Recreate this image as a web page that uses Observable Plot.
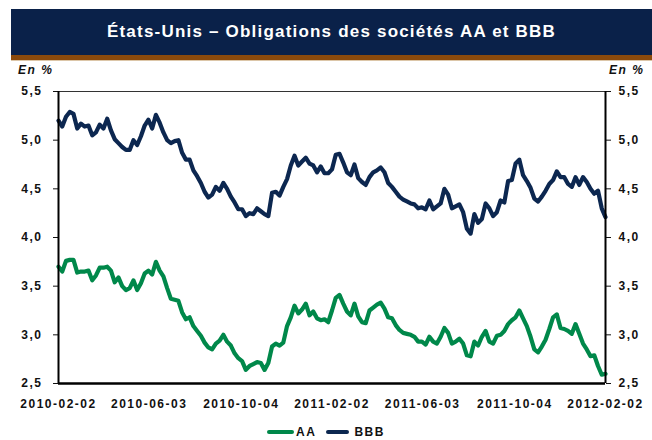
<!DOCTYPE html>
<html lang="fr">
<head>
<meta charset="utf-8">
<script src="https://cdn.jsdelivr.net/npm/d3@7"></script>
<script src="https://cdn.jsdelivr.net/npm/@observablehq/plot@0.6"></script>
<style>
  html, body { margin: 0; padding: 0; background: #fff; }
  body { width: 652px; height: 440px; position: relative; overflow: hidden;
         font-family: "Liberation Sans", Arial, sans-serif; }
  #titlebar { position: absolute; left: 11px; top: 9px; width: 641px; height: 46px;
              background: #0a2149; color: #fff; font-weight: bold; font-size: 17px;
              letter-spacing: 1.2px; display: flex; align-items: center; justify-content: center; }
  #stripe { position: absolute; left: 11px; top: 55px; width: 641px; height: 5px; background: #8b4a0c; }
  #stripe2 { position: absolute; left: 11px; top: 60px; width: 641px; height: 1px; background: #dcc6a8; }
  .unit { position: absolute; top: 63px; font-weight: bold; font-style: italic; font-size: 12px;
          letter-spacing: 1.5px; color: #111; }
  #chart { position: absolute; left: 0; top: 80px; }
  #legend { position: absolute; top: 425px; left: 0; width: 652px; display: flex; justify-content: center;
            align-items: center; font-weight: bold; font-size: 12px; letter-spacing: 1.5px; color: #111; }
  .sw { display: inline-block; height: 4px; border-radius: 2px; margin-right: 2px; }
</style>
</head>
<body>
<div id="titlebar">États-Unis – Obligations des sociétés AA et BBB</div>
<div id="stripe"></div>
<div id="stripe2"></div>
<div class="unit" style="left:18px">En %</div>
<div class="unit" style="left:609px">En %</div>
<div id="chart"></div>
<div id="legend"></div>
<script>
const startDate = "2010-02-02";
const stepDays = 5;
const seriesNames = ["AA", "BBB"];
const seriesColors = ["#00884a", "#0c2750"];

const aaValues = [
  3.70,3.65,3.76,3.77,3.77,3.64,3.65,3.65,3.66,3.56,
  3.61,3.69,3.69,3.70,3.66,3.54,3.59,3.50,3.46,3.48,
  3.56,3.46,3.53,3.63,3.66,3.62,3.75,3.66,3.60,3.48,
  3.37,3.36,3.35,3.23,3.16,3.18,3.09,3.04,2.99,2.92,
  2.87,2.85,2.91,2.94,3.00,2.93,2.89,2.81,2.76,2.73,
  2.64,2.68,2.70,2.72,2.71,2.64,2.71,2.88,2.91,2.89,
  2.92,3.09,3.18,3.30,3.22,3.26,3.32,3.20,3.24,3.17,
  3.15,3.16,3.13,3.25,3.38,3.41,3.32,3.24,3.20,3.32,
  3.19,3.13,3.12,3.25,3.28,3.31,3.33,3.27,3.18,3.17,
  3.10,3.05,3.02,3.01,3.00,2.98,2.93,2.93,2.90,2.98,
  2.93,2.91,2.98,3.07,3.02,2.91,2.93,2.96,2.91,2.79,
  2.78,2.93,2.89,2.98,3.04,2.93,2.91,2.99,3.00,3.04,
  3.11,3.15,3.18,3.25,3.17,3.09,2.98,2.85,2.82,2.88,
  2.95,3.06,3.18,3.21,3.07,3.06,3.04,3.01,3.11,3.01,
  2.91,2.85,2.78,2.79,2.68,2.59,2.60
];

const bbbValues = [
  5.20,5.14,5.24,5.29,5.27,5.12,5.17,5.14,5.15,5.05,
  5.08,5.16,5.12,5.22,5.10,5.01,4.97,4.93,4.90,4.90,
  5.00,4.95,5.04,5.15,5.21,5.12,5.26,5.18,5.08,5.00,
  4.97,4.99,5.00,4.87,4.80,4.80,4.69,4.63,4.56,4.47,
  4.41,4.44,4.52,4.48,4.56,4.50,4.42,4.36,4.29,4.29,
  4.22,4.25,4.24,4.30,4.27,4.24,4.22,4.46,4.47,4.43,
  4.52,4.60,4.74,4.84,4.74,4.78,4.82,4.76,4.74,4.67,
  4.73,4.66,4.66,4.70,4.85,4.86,4.77,4.67,4.64,4.75,
  4.61,4.57,4.54,4.62,4.67,4.69,4.72,4.67,4.56,4.52,
  4.47,4.42,4.39,4.37,4.35,4.34,4.30,4.31,4.29,4.38,
  4.29,4.32,4.35,4.50,4.44,4.30,4.32,4.34,4.26,4.09,
  4.04,4.24,4.15,4.19,4.35,4.30,4.22,4.26,4.38,4.36,
  4.58,4.59,4.76,4.80,4.64,4.58,4.51,4.40,4.37,4.42,
  4.48,4.55,4.59,4.68,4.62,4.62,4.55,4.52,4.62,4.54,
  4.62,4.57,4.50,4.45,4.48,4.30,4.21
];

const xTickLabels = ["2010-02-02","2010-06-03","2010-10-04","2011-02-02","2011-06-03","2011-10-04","2012-02-02"];
const yTicks = [2.5, 3.0, 3.5, 4.0, 4.5, 5.0, 5.5];

// ---- Build table ----
const parse = d3.utcParse("%Y-%m-%d");
const t0 = parse(startDate);
const rows = [];
aaValues.forEach((v, i) => rows.push({date: d3.utcDay.offset(t0, i * stepDays), value: v, series: "AA"}));
bbbValues.forEach((v, i) => rows.push({date: d3.utcDay.offset(t0, i * stepDays), value: v, series: "BBB"}));

const xTicks = xTickLabels.map(parse);
const xDomain = [xTicks[0], xTicks[xTicks.length - 1]];
const fmtY = d => d.toFixed(1).replace(".", ",");

const chart = Plot.plot({
  width: 652,
  height: 333,
  marginTop: 11,
  marginBottom: 30,
  marginLeft: 58,
  marginRight: 47,
  style: {fontFamily: "'Liberation Sans', Arial, sans-serif", fontSize: "12px", fontWeight: "bold",
          letterSpacing: "1.5px", color: "#111", background: "transparent"},
  x: {type: "utc", domain: xDomain},
  y: {domain: [2.5, 5.5]},
  color: {domain: seriesNames, range: seriesColors},
  marks: [
    Plot.axisY({anchor: "left", ticks: yTicks, tickFormat: fmtY, tickSize: 5, tickPadding: 11, label: null}),
    Plot.axisY({anchor: "right", ticks: yTicks, tickFormat: fmtY, tickSize: 5, tickPadding: 8, label: null}),
    Plot.axisX({ticks: xTicks, tickFormat: d3.utcFormat("%Y-%m-%d"), tickSize: 0, tickPadding: 16, label: null}),
    Plot.ruleY([5.5], {stroke: "#333", strokeWidth: 1}),
    Plot.lineY(rows, {x: "date", y: "value", z: "series", stroke: "series", strokeWidth: 4.2,
                      strokeLinejoin: "round", strokeLinecap: "round"}),
    Plot.ruleX(xDomain, {stroke: "#000", strokeWidth: 2}),
    Plot.ruleY([2.5], {stroke: "#000", strokeWidth: 2.6})
  ]
});
document.getElementById("chart").appendChild(chart);

// ---- Legend ----
const legend = document.getElementById("legend");
const swWidths = [27, 23];
seriesNames.forEach((name, i) => {
  const item = document.createElement("span");
  item.style.display = "inline-flex";
  item.style.alignItems = "center";
  item.style.marginRight = i === 0 ? "10px" : "0";
  const sw = document.createElement("span");
  sw.className = "sw";
  sw.style.width = swWidths[i] + "px";
  sw.style.background = seriesColors[i];
  if (i === 1) sw.style.marginRight = "5px";
  item.appendChild(sw);
  item.appendChild(document.createTextNode(name));
  legend.appendChild(item);
});
</script>
</body>
</html>
